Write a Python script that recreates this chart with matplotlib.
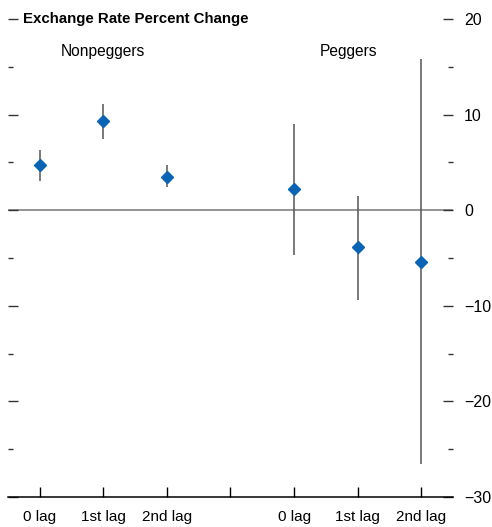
import numpy as np
import matplotlib.pyplot as plt
from matplotlib.ticker import MultipleLocator
from matplotlib import font_manager

# pick a narrow font if available
names = {f.name for f in font_manager.fontManager.ttflist}
fam = 'Liberation Sans Narrow' if 'Liberation Sans Narrow' in names else 'Liberation Sans'
plt.rcParams['font.family'] = [fam, 'DejaVu Sans']

# Data
labels = ['0 lag', '1st lag', '2nd lag', '', '0 lag', '1st lag', '2nd lag']
nonpeg_val = [4.7, 9.3, 3.5]
nonpeg_lo = [3.1, 7.4, 2.4]
nonpeg_hi = [6.3, 11.1, 4.7]
peg_val = [2.2, -3.9, -5.4]
peg_lo = [-4.7, -9.4, -26.5]
peg_hi = [9.0, 1.5, 15.8]

fig = plt.figure(figsize=(4.92, 5.27), dpi=100)
ax = fig.add_axes([8/492, 30/527, 445/492, 478/527])

x_np = np.array([0, 1, 2])
x_p = np.array([4, 5, 6])
vals = np.array(nonpeg_val + peg_val)
lo = np.array(nonpeg_lo + peg_lo)
hi = np.array(nonpeg_hi + peg_hi)
xs = np.concatenate([x_np, x_p])

ax.axhline(0, color='#777777', lw=1.1, zorder=1)
ax.vlines(xs, lo, hi, color='#555555', lw=1.1, zorder=2)
ax.plot(xs, vals, 'D', color='#0a64b4', ms=6.3, zorder=3, mec='#0a64b4')

ax.set_xlim(-0.5, 6.5)
ax.set_ylim(-30, 20)
ax.set_xticks(range(7))
ax.set_xticklabels(labels, fontsize=11)

for s in ['top', 'left', 'right']:
    ax.spines[s].set_visible(False)
ax.spines['bottom'].set_linewidth(1.1)

ax.yaxis.set_major_locator(MultipleLocator(10))
ax.yaxis.set_minor_locator(MultipleLocator(5))
ax.tick_params(axis='y', which='both', left=True, right=True, labelleft=False,
               labelright=True, direction='in', labelsize=11.5, pad=8)
ax.tick_params(axis='y', which='major', length=7, width=1, color='#333333')
ax.tick_params(axis='y', which='minor', length=3.5, width=1, color='#333333')
ax.tick_params(axis='x', direction='in', length=7, width=1, labelsize=11, pad=9)
ax.yaxis.set_major_formatter(plt.FuncFormatter(lambda v, p: f'{int(v)}'.replace('-', '\u2212')))

ax.text(0.033, 1.0, 'Exchange Rate Percent Change', transform=ax.transAxes,
        fontsize=10.8, fontweight='bold', va='center', ha='left')
ax.text(1.0, 16.6, 'Nonpeggers', fontsize=11.2, ha='center', va='center')
ax.text(4.85, 16.6, 'Peggers', fontsize=11.2, ha='center', va='center')

fig.savefig('out.png', dpi=100)
